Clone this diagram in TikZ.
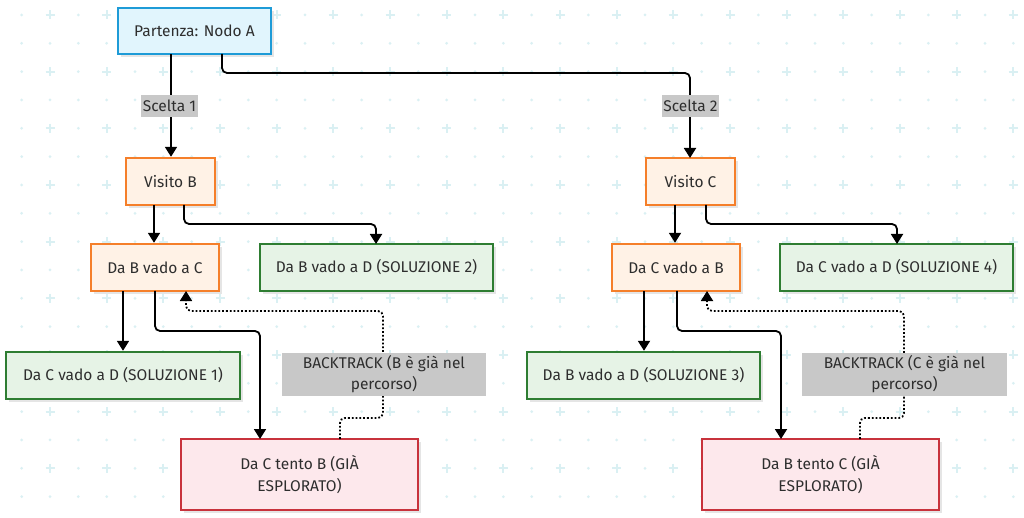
\documentclass[tikz,border=0pt]{standalone}
\usepackage{fontspec}
\setmainfont{Fira Sans}
\usetikzlibrary{arrows.meta}
\definecolor{gridc}{HTML}{DAF0F3}
\definecolor{txt}{HTML}{2E2E2E}
\definecolor{bluebd}{HTML}{1E9BD7}
\definecolor{bluefl}{HTML}{E1F5FD}
\definecolor{orbd}{HTML}{F57F2A}
\definecolor{orfl}{HTML}{FFF2E6}
\definecolor{grbd}{HTML}{2E7D32}
\definecolor{grfl}{HTML}{E6F3E6}
\definecolor{rdbd}{HTML}{C8323C}
\definecolor{rdfl}{HTML}{FDE8EC}
\definecolor{lblfl}{HTML}{C8C8C8}
\tikzset{
  box/.style={draw, line width=2.4pt, text=txt, font=\fontsize{15.5}{22}\selectfont, align=center, inner sep=0pt},
  startbox/.style={box, draw=bluebd, fill=bluefl},
  visitbox/.style={box, draw=orbd, fill=orfl},
  solbox/.style={box, draw=grbd, fill=grfl},
  failbox/.style={box, draw=rdbd, fill=rdfl},
  lbl/.style={fill=lblfl, text=txt, font=\fontsize{15.5}{21}\selectfont, align=center, inner sep=0pt},
  conn/.style={line width=1.8pt, black, rounded corners=5pt, -{Triangle[width=12pt,length=10pt]}},
  back/.style={line width=1.8pt, black, dotted, rounded corners=5pt, -{Triangle[width=12pt,length=10pt]}},
}
\newcommand{\bx}[7]{% style, name, x1, y1, x2, y2, text
  \fill[black!10] (#3+3,#4+3) rectangle (#5+3,#6+3);
  \node[#1, minimum width=#5-#3, minimum height=#6-#4] (#2) at ({(#3+#5)/2},{(#4+#6)/2}) {#7};}
\begin{document}
\begin{tikzpicture}[x=1pt,y=-1pt]
\useasboundingbox (0,0) rectangle (1024,518);
\fill[white] (0,0) rectangle (1024,518);
% grid
\foreach \i in {-1,...,36} {
  \foreach \j in {-1,...,18} {
    \pgfmathsetmacro{\px}{50+28.333*\i}
    \pgfmathsetmacro{\py}{15+28.333*\j}
    \pgfmathtruncatemacro{\ev}{(mod(abs(\i),2)==0) && (mod(abs(\j),2)==0)}
    \ifnum\ev=1
      \draw[gridc, line width=1.8pt] (\px-4.5,\py) -- (\px+4.5,\py) (\px,\py-4.5) -- (\px,\py+4.5);
    \else
      \fill[gridc] (\px,\py) circle (1.5);
    \fi
  }
}
% nodes
\bx{startbox}{A}{118}{8}{271}{54}{Partenza: Nodo A}
\bx{visitbox}{VB}{126}{158}{215}{205}{Visito B}
\bx{visitbox}{VC}{646}{158}{735}{205}{Visito C}
\bx{visitbox}{BC}{91}{244}{219}{291}{Da B vado a C}
\bx{solbox}{S2}{260}{244}{493}{291}{Da B vado a D (SOLUZIONE 2)}
\bx{visitbox}{CB}{612}{244}{740}{291}{Da C vado a B}
\bx{solbox}{S4}{780}{244}{1013}{291}{Da C vado a D (SOLUZIONE 4)}
\bx{solbox}{S1}{6}{352}{240}{399}{Da C vado a D (SOLUZIONE 1)}
\bx{solbox}{S3}{527}{352}{760}{399}{Da B vado a D (SOLUZIONE 3)}
\bx{failbox}{FB}{181}{439}{418}{510}{Da C tento B (GIÀ\\ESPLORATO)}
\bx{failbox}{FC}{702}{439}{939}{510}{Da B tento C (GIÀ\\ESPLORATO)}
% coordinates
\coordinate (a1) at (171,54);
\coordinate (a2) at (222,54);
\coordinate (vb1) at (154,205);
\coordinate (vb2) at (184,205);
\coordinate (vc1) at (675,205);
\coordinate (vc2) at (706,205);
\coordinate (bc1) at (123,291);
\coordinate (bc2) at (155,291);
\coordinate (bc3) at (186,291);
\coordinate (cb1) at (644,291);
\coordinate (cb2) at (677,291);
\coordinate (cb3) at (707,291);
\coordinate (fb1) at (340,439);
\coordinate (fc1) at (860,439);
% edges
\draw[conn] (a1) -- (a1 |- VB.north);
\draw[conn] (a2) -- (222,73) -- (690,73) -- (690,158);
\draw[conn] (vb1) -- (vb1 |- BC.north);
\draw[conn] (vb2) -- (184,224) -- (376,224) -- (376,244);
\draw[conn] (vc1) -- (vc1 |- CB.north);
\draw[conn] (vc2) -- (706,224) -- (897,224) -- (897,244);
\draw[conn] (bc1) -- (bc1 |- S1.north);
\draw[conn] (bc2) -- (155,331) -- (260,331) -- (260,439);
\draw[conn] (cb1) -- (cb1 |- S3.north);
\draw[conn] (cb2) -- (677,331) -- (781,331) -- (781,439);
\draw[back] (fb1) -- (340,418) -- (383,418) -- (383,311) -- (186,311) -- (bc3);
\draw[back] (fc1) -- (860,418) -- (904,418) -- (904,311) -- (707,311) -- (cb3);
% labels
\node[lbl, minimum width=57, minimum height=22] (L1) at (169.5,106) {Scelta 1};
\node[lbl, minimum width=57, minimum height=22] (L2) at (690.5,106) {Scelta 2};
\node[lbl, minimum width=204, minimum height=43] (L3) at (384,374.5) {BACKTRACK (B è già nel\\percorso)};
\node[lbl, minimum width=205, minimum height=43] (L4) at (904.5,374.5) {BACKTRACK (C è già nel\\percorso)};
\end{tikzpicture}
\end{document}
